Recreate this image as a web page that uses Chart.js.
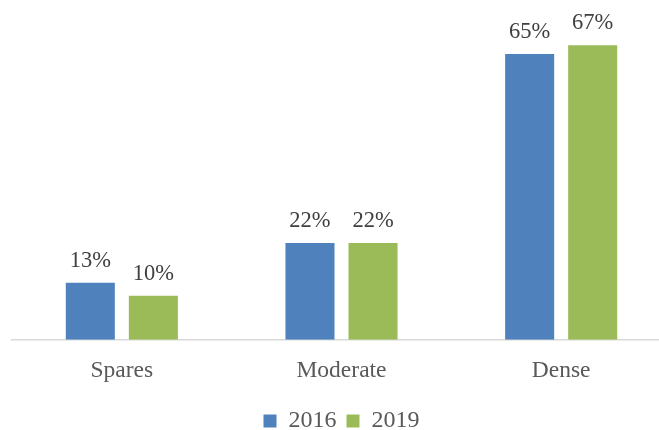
<!DOCTYPE html>
<html>
<head>
<meta charset="utf-8">
<script src="https://cdn.jsdelivr.net/npm/chart.js@4"></script>
<style>
  html, body { margin: 0; padding: 0; background: #fff; overflow: hidden; }
  #wrap { width: 672px; height: 443px; position: relative; }
</style>
</head>
<body>
<div id="wrap"><canvas id="myChart"></canvas></div>
<script>
var categories = ["Spares", "Moderate", "Dense"];
var values2016 = [13, 22, 65];
var values2019 = [10, 22, 67];
var seriesNames = ["2016", "2019"];

var serif = "'Liberation Serif', 'Times New Roman', serif";

// draws the % labels on top of every bar
var barLabels = {
    id: 'barLabels',
    afterDatasetsDraw: function (chart) {
        var ctx = chart.ctx;
        ctx.save();
        ctx.font = "22.5px " + serif;
        ctx.fillStyle = "#404040";
        ctx.textAlign = "center";
        ctx.textBaseline = "alphabetic";
        chart.data.datasets.forEach(function (ds, i) {
            var meta = chart.getDatasetMeta(i);
            meta.data.forEach(function (bar, j) {
                ctx.fillText(ds.data[j] + "%", bar.x, bar.y - 16);
            });
        });
        ctx.restore();
    }
};

var ctx = document.getElementById('myChart').getContext('2d');
var chart = new Chart(ctx, {
    type: 'bar',
    data: {
        labels: categories,
        datasets: [{
            label: seriesNames[0],
            data: values2016,
            backgroundColor: "#4F81BD"
        },
        {
            label: seriesNames[1],
            data: values2019,
            backgroundColor: "#9BBB59"
        }]
    },
    options: {
        responsive: true,
        maintainAspectRatio: false,
        animation: false,
        categoryPercentage: 0.574,
        barPercentage: 0.778,
        layout: {
            padding: { top: 32, left: 12, right: 1, bottom: 0 }
        },
        scales: {
            x: {
                grid: { display: false, drawTicks: false },
                border: { display: true, color: "#d9d9d9", width: 1.5 },
                ticks: {
                    color: "#595959",
                    padding: 17,
                    font: { family: serif, size: 23.5 }
                },
                afterFit: function (scale) { scale.height -= 3; }
            },
            y: {
                display: false,
                min: 0,
                max: 70
            }
        },
        plugins: {
            legend: {
                position: 'bottom',
                labels: {
                    boxWidth: 13,
                    boxHeight: 13,
                    padding: 10,
                    color: "#595959",
                    font: { family: serif, size: 24 }
                }
            },
            tooltip: { enabled: false }
        }
    },
    plugins: [barLabels]
});
</script>
</body>
</html>
